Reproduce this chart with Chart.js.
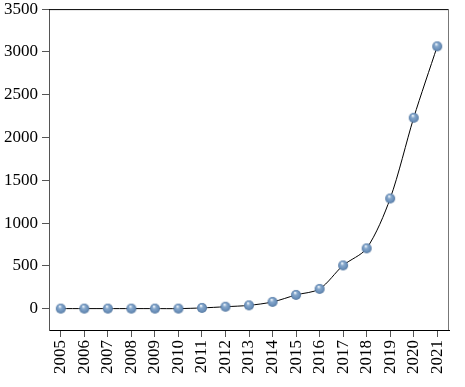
<!DOCTYPE html>
<html>
<head>
<meta charset="utf-8">
<script src="https://cdn.jsdelivr.net/npm/chart.js@4"></script>
<style>
  html, body { margin: 0; padding: 0; background: #fff; }
  #wrap { width: 465px; height: 387px; }
</style>
</head>
<body>
<div id="wrap"><canvas id="chart" width="465" height="387"></canvas></div>
<script>
const years = ["2005", "2006", "2007", "2008", "2009", "2010", "2011", "2012", "2013",
  "2014", "2015", "2016", "2017", "2018", "2019", "2020", "2021"];
const counts = [0, 0, 0, 0, 0, 0, 8, 22, 38, 78, 160, 230, 505, 704, 1287, 2230, 3065];
const yTicks = [0, 500, 1000, 1500, 2000, 2500, 3000, 3500];

// little shaded ball used as point marker
function ball(r) {
  const c = document.createElement("canvas");
  c.width = c.height = r * 2 + 2;
  const g = c.getContext("2d");
  const cx = r + 1, cy = r + 1;
  const grad = g.createRadialGradient(cx - r * 0.2, cy - r * 0.45, r * 0.1, cx, cy, r);
  grad.addColorStop(0, "#e8f0f8");
  grad.addColorStop(0.3, "#86a8cc");
  grad.addColorStop(0.75, "#6b90ba");
  grad.addColorStop(1, "#4f739c");
  g.fillStyle = grad;
  g.beginPath();
  g.arc(cx, cy, r, 0, Math.PI * 2);
  g.fill();
  return c;
}

const frame = {
  id: "frame",
  afterDraw(chart) {
    const a = chart.chartArea, ctx = chart.ctx;
    ctx.save();
    ctx.lineWidth = 1;
    ctx.strokeStyle = "#000";
    ctx.beginPath();
    ctx.moveTo(a.left, a.top + 0.5);
    ctx.lineTo(a.right, a.top + 0.5);
    ctx.stroke();
    ctx.strokeStyle = "#777";
    ctx.beginPath();
    ctx.moveTo(a.right - 0.5, a.top);
    ctx.lineTo(a.right - 0.5, a.bottom);
    ctx.stroke();
    ctx.restore();
  }
};

const font = { family: "'Liberation Serif', 'DejaVu Serif', serif", size: 17 };

new Chart(document.getElementById("chart"), {
  type: "line",
  data: {
    labels: years,
    datasets: [{
      data: counts,
      borderColor: "#000",
      borderWidth: 1,
      tension: 0.3,
      pointStyle: ball(5),
      pointRadius: 5,
      clip: false
    }]
  },
  options: {
    responsive: false,
    animation: false,
    layout: { padding: { top: 0, right: 16, left: 0, bottom: 10 } },
    plugins: { legend: { display: false }, tooltip: { enabled: false } },
    scales: {
      x: {
        offset: true,
        grid: { display: true, drawOnChartArea: false, tickLength: 7, color: "#555" },
        border: { display: true, color: "#000", width: 1 },
        ticks: { color: "#000", font, minRotation: 90, maxRotation: 90, autoSkip: false, padding: 3 }
      },
      y: {
        min: -250,
        max: 3500,
        afterBuildTicks: s => { s.ticks = yTicks.map(v => ({ value: v })); },
        grid: { display: true, drawOnChartArea: false, tickLength: 7, color: "#555" },
        border: { display: true, color: "#555", width: 1 },
        ticks: { color: "#000", font: { ...font, lineHeight: 0.6 }, padding: 4, callback: v => String(v) }
      }
    }
  },
  plugins: [frame]
});
</script>
</body>
</html>
